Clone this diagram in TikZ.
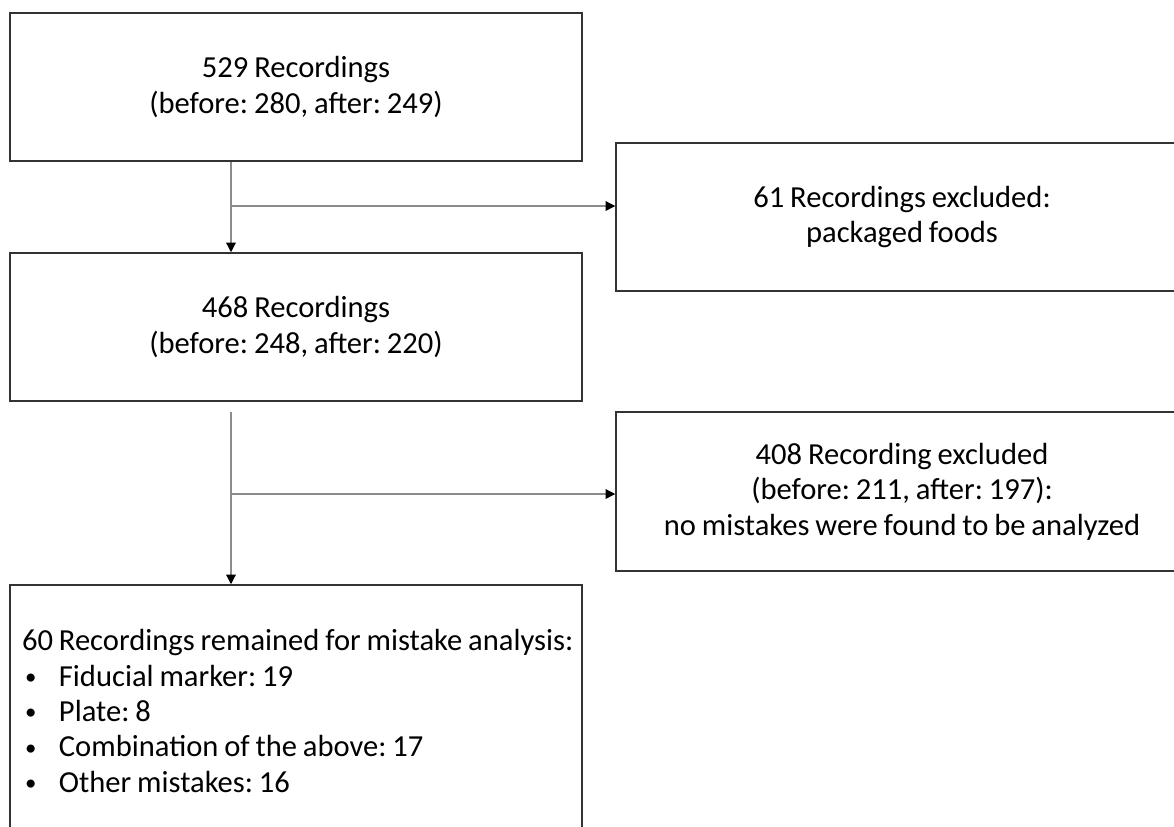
\documentclass[tikz,border=0pt]{standalone}
\usepackage{fontspec}
\setmainfont{Carlito}[WordSpace=0.85]
\usetikzlibrary{arrows.meta}

\newcommand{\itembullet}{\makebox[21pt][l]{\hspace{1.7pt}\raisebox{0.9pt}{\fontsize{13}{13}\selectfont\textbullet}}}

\begin{document}
\frenchspacing
\begin{tikzpicture}[x=0.02cm, y=-0.02cm]
 \tikzset{flow box/.style={
 		draw=black!80, line width=0.9pt,
 		minimum width=11.44cm,
 		minimum height=#1,
 		align=center,
 		inner sep=0pt,
 		font=\fontsize{17.4}{20.2}\selectfont
 	},
 	flow box/.default=2.96cm,
 	flow arrow/.style={
 		draw=black!45, line width=0.7pt,
 		-{Triangle[length=5.5pt,width=5.5pt,color=black]}
 	}
 }
 \useasboundingbox (0,0) rectangle (1174,826);
 \clip (0,0) rectangle (1174,826);
 %left column
 \node[flow box] (total) at (296,87) {529 Recordings\\(before: 280, after: 249)};
 \node[flow box] (after) at (296,327) {468 Recordings\\(before: 248, after: 220)};
 \node[flow box=5.04cm, align=left, text width=10.96cm] (remained) at (296,711)
 {\spaceskip=0pt\xspaceskip=0pt
 	\mbox{60 Recordings remained for mistake analysis:}\\
 	\itembullet Fiducial marker: 19\\
 	\itembullet Plate: 8\\
 	\itembullet Combination of the above: 17\\
 	\itembullet Other mistakes: 16};
 %right column
 \node[flow box] (packaged) at (902,217) {61 Recordings excluded:\\packaged foods};
 \node[flow box=3.18cm] (nomistake) at (902,491.5)
 {408 Recording excluded\\(before: 211, after: 197):\\no mistakes were found to be analyzed};
 %connectors
 \coordinate (split1) at (231,206);
 \coordinate (top2) at (231,412);
 \coordinate (split2) at (231,494);
 \draw[flow arrow] (total.south -| split1) -- (after.north -| split1);
 \draw[flow arrow] (split1) -- (split1 -| packaged.west);
 \draw[flow arrow] (top2) -- (remained.north -| top2);
 \draw[flow arrow] (split2) -- (split2 -| nomistake.west);
\end{tikzpicture}
\end{document}
